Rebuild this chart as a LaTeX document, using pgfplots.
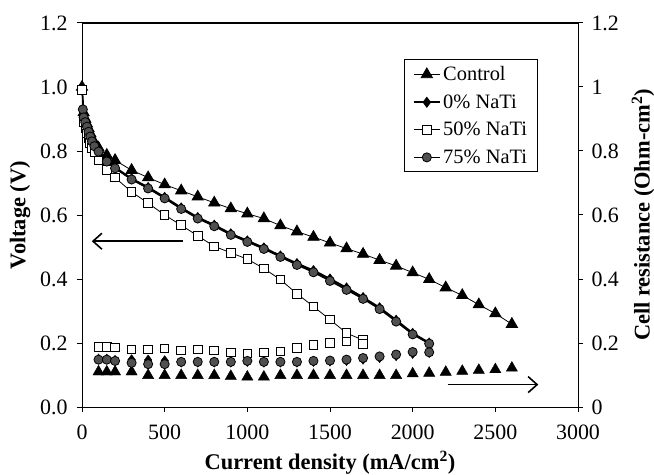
\documentclass[border=0pt]{standalone}
\usepackage{pgfplots}
\pgfplotsset{compat=1.18}
\usepackage{fontspec}
\setmainfont{Liberation Serif}
\usetikzlibrary{arrows.meta}
\definecolor{circgray}{RGB}{80,80,80}
\newcommand{\tickf}{\fontsize{22}{26}\selectfont}
\newcommand{\labf}{\fontsize{22.5}{27}\selectfont\bfseries}
\newcommand{\legf}{\fontsize{20.5}{24}\selectfont}
\begin{document}
\begin{tikzpicture}
\useasboundingbox (-82bp,-68bp) rectangle (572bp,407bp);
\pgfplotsset{
  every axis/.append style={
    scale only axis, width=496bp, height=384bp,
    at={(0,0)}, anchor=south west,
    xmin=0, xmax=3000, ymin=0, ymax=1.2,
    label style={font=\labf},
    /pgf/number format/assume math mode=true,
    tick align=outside, major tick length=5bp,
    axis line style={line width=1pt}, every tick/.style={line width=1pt,black},
  },
}
\begin{axis}[
  axis y line*=left, axis x line*=bottom,
  xtick={0,500,...,3000},
  ytick={0,0.2,...,1.2},
  yticklabel style={font=\tickf, xshift=-6bp,/pgf/number format/.cd,fixed,fixed zerofill,precision=1},
  xticklabel style={font=\tickf, yshift=-9bp,/pgf/number format/.cd,fixed,1000 sep={}},
  xlabel={Current density (mA/cm\textsuperscript{2})},
  ylabel={Voltage (V)},
  xlabel style={at={(axis description cs:0.5,-0.145)}, anchor=center},
  ylabel style={at={(axis description cs:-0.125,0.5)}, anchor=center},
  legend style={at={(rel axis cs:0.649,0.906)}, anchor=north west, draw=black, line width=1pt,
    font=\legf, row sep=8.5bp, inner xsep=8bp, inner ysep=5bp},
  legend cell align=left,
  legend image code/.code={\draw[mark repeat=2,mark phase=2,#1] plot coordinates {(0cm,0cm) (0.47cm,0cm) (0.94cm,0cm)};},
]
\draw[line width=1.6pt] (0,1.2) -- (3000,1.2);
\addplot[black, line width=0.8pt, mark=triangle*, mark size=6.5pt, mark options={fill=black, solid}] coordinates {
(0,1.00)(10,0.92)(20,0.90)(30,0.885)(40,0.87)(50,0.855)(60,0.84)(75,0.825)(100,0.81)(150,0.787)(200,0.771)
(300,0.740)(400,0.717)(500,0.695)(600,0.676)(700,0.657)(800,0.638)(900,0.620)(1000,0.604)(1100,0.589)
(1200,0.567)(1300,0.548)(1400,0.531)(1500,0.513)(1600,0.495)(1700,0.478)(1800,0.459)(1900,0.441)
(2000,0.420)(2100,0.399)(2200,0.373)(2300,0.349)(2400,0.320)(2500,0.292)(2600,0.259)};
\addlegendentry{Control}
\addplot[black, line width=2.2pt, mark=diamond*, mark size=5pt, mark options={fill=black, line width=0.8pt}] coordinates {
(0,0.99)(10,0.91)(20,0.893)(30,0.878)(40,0.862)(50,0.847)(60,0.832)(75,0.817)(100,0.800)(150,0.769)(200,0.748)
(300,0.713)(400,0.686)(500,0.655)(600,0.622)(700,0.592)(800,0.568)(900,0.541)(1000,0.519)(1100,0.497)
(1200,0.472)(1300,0.448)(1400,0.426)(1500,0.400)(1600,0.372)(1700,0.342)(1800,0.310)(1900,0.271)
(2000,0.230)(2100,0.200)};
\addlegendentry{0\% NaTi}
\addplot[black, line width=0.8pt, mark=square*, mark size=4.3pt, mark options={fill=white, line width=1pt}] coordinates {
(0,0.99)(10,0.89)(20,0.87)(30,0.855)(40,0.84)(50,0.825)(60,0.81)(75,0.795)(100,0.770)(150,0.740)(200,0.717)
(300,0.672)(400,0.637)(500,0.600)(600,0.568)(700,0.535)(800,0.502)(900,0.482)(1000,0.462)(1100,0.433)
(1200,0.398)(1300,0.354)(1400,0.314)(1500,0.273)(1600,0.231)(1700,0.209)};
\addlegendentry{50\% NaTi}
\addplot[black, line width=1.4pt, mark=*, mark size=4.6pt, mark options={fill=circgray, line width=0.8pt}] coordinates {
(5,0.930)(10,0.905)(20,0.890)(30,0.876)(40,0.860)(50,0.845)(60,0.830)(75,0.815)(100,0.798)(150,0.767)(200,0.746)
(300,0.711)(400,0.683)(500,0.652)(600,0.619)(700,0.589)(800,0.565)(900,0.538)(1000,0.516)(1100,0.494)
(1200,0.469)(1300,0.444)(1400,0.421)(1500,0.394)(1600,0.366)(1700,0.338)(1800,0.306)(1900,0.267)
(2000,0.227)(2100,0.198)};
\addlegendentry{75\% NaTi}
\draw[line width=1.6pt, -{Straight Barb[length=9bp,width=16bp]}] (axis cs:612,0.518) -- (axis cs:59,0.518);
\draw[line width=1.6pt, -{Straight Barb[length=9bp,width=16bp]}] (axis cs:2212,0.070) -- (axis cs:2760,0.070);
\end{axis}
\begin{axis}[
  axis y line*=right, axis x line=none,
  ytick={0,0.2,...,1.2},
  yticklabel style={font=\tickf, xshift=5bp,/pgf/number format/.cd,fixed},
  ylabel={Cell resistance (Ohm-cm\textsuperscript{2})},
  ylabel style={at={(axis description cs:1.131,0.5)}, anchor=center},
]
\addplot[only marks, mark=triangle*, mark size=6.5pt, mark options={fill=black, draw=black}] coordinates {
(100,0.110)(150,0.110)(200,0.110)(300,0.110)(400,0.099)(500,0.099)(600,0.099)(700,0.099)(800,0.099)
(900,0.096)(1000,0.094)(1100,0.094)(1200,0.099)(1300,0.099)(1400,0.099)(1500,0.099)(1600,0.099)
(1700,0.099)(1800,0.099)(1900,0.099)(2000,0.104)(2100,0.106)(2200,0.109)(2300,0.112)(2400,0.115)
(2500,0.117)(2600,0.122)};
\addplot[only marks, mark=diamond*, mark size=5pt, mark options={fill=black, draw=black}] coordinates {
(100,0.150)(150,0.150)(200,0.146)(300,0.148)(400,0.147)(500,0.145)(600,0.140)(700,0.140)(800,0.140)
(900,0.140)(1000,0.142)(1100,0.140)(1200,0.140)(1300,0.140)(1400,0.142)(1500,0.143)(1600,0.145)
(1700,0.149)(1800,0.154)(1900,0.160)(2000,0.167)(2100,0.170)};
\addplot[only marks, mark=square*, mark size=4.3pt, mark options={fill=white, draw=black, line width=1pt}] coordinates {
(100,0.188)(150,0.188)(200,0.186)(300,0.180)(400,0.180)(500,0.183)(600,0.177)(700,0.180)(800,0.177)
(900,0.170)(1000,0.167)(1100,0.170)(1200,0.174)(1300,0.185)(1400,0.193)(1500,0.200)(1600,0.205)(1700,0.196)};
\addplot[only marks, mark=*, mark size=4.6pt, mark options={fill=circgray, draw=black, line width=0.8pt}] coordinates {
(100,0.148)(150,0.148)(200,0.144)(300,0.138)(400,0.134)(500,0.134)(600,0.141)(700,0.141)(800,0.141)
(900,0.141)(1000,0.144)(1100,0.141)(1200,0.141)(1300,0.141)(1400,0.144)(1500,0.145)(1600,0.148)
(1700,0.153)(1800,0.158)(1900,0.164)(2000,0.172)(2100,0.171)};
\end{axis}
\end{tikzpicture}
\end{document}
